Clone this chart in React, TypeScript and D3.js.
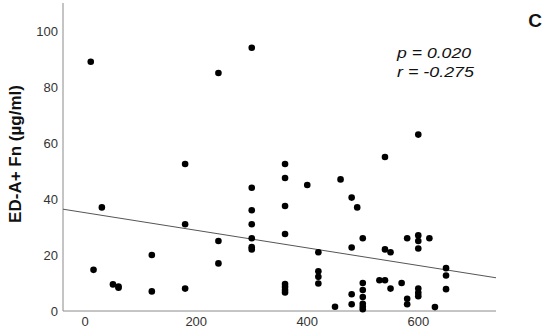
import React from 'react';
import * as d3 from 'd3';

// time values (x) and ED-A+ Fn concentration (y)
const xValues = [
  10, 15, 30, 50, 60, 60, 120, 120, 180, 180, 180,
  240, 240, 240, 300, 300, 300, 300, 300, 300, 300,
  360, 360, 360, 360, 360, 360, 360, 360,
  400, 420, 420, 420, 420, 450, 460, 480, 480, 480, 480, 490,
  500, 500, 500, 500, 500, 500, 500,
  530, 540, 540, 540, 550, 550, 570, 580, 580, 580,
  600, 600, 600, 600, 600, 600, 600, 620, 630, 650, 650, 650,
];
const yValues = [
  89, 14.7, 37, 9.5, 8.7, 8.3, 20, 7, 52.5, 31, 8,
  85, 25, 17, 94, 44, 36, 31, 26, 22.8, 22,
  52.5, 47.5, 37.5, 27.5, 9.6, 8.6, 7.5, 6.6,
  45, 21, 14.2, 12.2, 9.8, 1.5, 47, 40.5, 22.7, 6, 2.4, 37,
  26, 10, 7.5, 5, 2.6, 1.5, 0.6,
  11, 55, 22, 11, 21, 8, 10, 26, 4.4, 2.4,
  63, 27, 25, 22.3, 8, 6.5, 5.3, 26, 1.4, 15.3, 12.7, 7.8,
];
const xTicks = [0, 200, 400, 600];
const yTicks = [0, 20, 40, 60, 80, 100];
// fit line (intercept, slope)
const fitLine = { intercept: 35.1, slope: -0.0314 };
const statLines = ['p = 0.020', 'r = -0.275'];
const yTitle = 'ED-A+ Fn (µg/ml)';
const panelLabel = 'C';

const W = 550;
const H = 333;

export default function App() {
  const x = d3.scaleLinear().domain([-40, 740]).range([63, 496]);
  const y = d3.scaleLinear().domain([0, 110]).range([311, 3]);
  const font = 'Arial, "Liberation Sans", Helvetica, sans-serif';

  const [x0, x1] = x.domain();
  const fitPath = d3.line<number>()
    .x(d => x(d))
    .y(d => y(fitLine.intercept + fitLine.slope * d))([x0, x1]);

  return (
    <svg width={W} height={H} style={{ position: 'absolute', left: 0, top: 0, background: '#fff' }}
      fontFamily={font}>
      {/* axes */}
      <line x1={x(x0)} x2={x(x0)} y1={y(110)} y2={y(0)} stroke="#8a8a8a" strokeWidth={1} />
      <line x1={x(x0)} x2={x(x1)} y1={y(0)} y2={y(0)} stroke="#8a8a8a" strokeWidth={1} />

      {yTicks.map(t => (
        <text key={'y' + t} x={58} y={y(t)} dy="0.36em" textAnchor="end" fontSize={13} fill="#333">{t}</text>
      ))}
      {xTicks.map(t => (
        <text key={'x' + t} x={x(t)} y={325.5} textAnchor="middle" fontSize={13} fill="#333">{t}</text>
      ))}

      <text transform="translate(21, 154) rotate(-90)" textAnchor="middle" fontSize={17}
        fontWeight="bold" fill="#111">{yTitle}</text>

      <path d={fitPath || ''} fill="none" stroke="#555" strokeWidth={1} />

      {xValues.map((v, i) => (
        <circle key={i} cx={x(v)} cy={y(yValues[i])} r={3.3} fill="#000" />
      ))}

      {statLines.map((s, i) => (
        <text key={s} x={397} y={58 + i * 19} fontSize={14.5} fontStyle="italic" fill="#111"
          textLength={i === 0 ? 74 : 77} lengthAdjust="spacingAndGlyphs">{s}</text>
      ))}

      <text x={535} y={27} textAnchor="middle" fontSize={19} fontWeight="bold" fill="#111">{panelLabel}</text>
    </svg>
  );
}
